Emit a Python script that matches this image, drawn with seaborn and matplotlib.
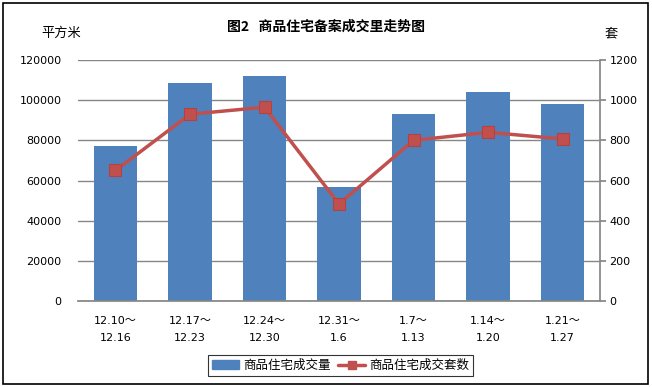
import numpy as np
import pandas as pd
import seaborn as sns
import matplotlib.pyplot as plt
from matplotlib.patches import Rectangle
from matplotlib.lines import Line2D

weeks = ["12.10～\n12.16", "12.17～\n12.23", "12.24～\n12.30", "12.31～\n1.6",
         "1.7～\n1.13", "1.14～\n1.20", "1.21～\n1.27"]
area = [77000, 108500, 112000, 56800, 93000, 104000, 98000]
units = [650, 930, 965, 483, 800, 840, 807]

sns.set_theme(style="white")
plt.rcParams['font.family'] = ['DejaVu Sans', 'Noto Sans CJK SC']
plt.rcParams['text.color'] = 'black'
cjk = ['Noto Sans CJK SC', 'DejaVu Sans']

df = pd.DataFrame({"week": weeks, "area": area, "units": units})

fig = plt.figure(figsize=(6.52, 3.87), dpi=100)
ax = fig.add_axes([0.12, 0.222, 0.8, 0.623])

grid_c = "#868686"
ax.set_ylim(0, 120000)
ax.set_yticks(range(0, 120001, 20000))
ax.yaxis.grid(True, color=grid_c, linewidth=1)
ax.set_axisbelow(True)

sns.barplot(data=df, x="week", y="area", color="#4F81BD", width=0.58,
            saturation=1, linewidth=0, edgecolor="none", ax=ax, zorder=2)
ax.set_xlim(-0.5, 6.5)

ax2 = ax.twinx()
sns.lineplot(data=df, x="week", y="units", color="#C0504D", linewidth=2.5,
             marker="s", markersize=8, markeredgecolor="#B9403D", ax=ax2, sort=False)
ax2.set_ylim(0, 1200)
ax2.set_yticks(range(0, 1201, 200))
ax2.set_xlim(-0.5, 6.5)

for a in (ax, ax2):
    a.set_xlabel("")
    a.set_ylabel("")
    for s in a.spines.values():
        s.set_visible(False)
ax2.spines["right"].set_visible(True)
ax2.spines["right"].set_color(grid_c)
ax2.spines["bottom"].set_visible(True)
ax2.spines["bottom"].set_color(grid_c)

ax.tick_params(axis="y", length=0, labelsize=8, pad=12, labelcolor="black")
ax2.tick_params(axis="y", length=4, color=grid_c, direction="out",
                right=True, labelsize=8, pad=3, labelcolor="black")
ax.tick_params(axis="x", length=0, labelsize=8, pad=11, labelcolor="black")
for t in ax.get_xticklabels():
    t.set_linespacing(1.8)
    t.set_family(cjk[::-1])

fig.text(0.5, 0.93, "图2   商品住宅备案成交里走势图", ha="center", va="center",
         fontsize=10, fontweight="bold", family=cjk)
fig.text(0.094, 0.913, "平方米", ha="center", va="center", fontsize=9.5, family=cjk)
fig.text(0.937, 0.913, "套", ha="center", va="center", fontsize=9.5, family=cjk)

handles = [Rectangle((0, 0), 1, 1, color="#4F81BD"),
           Line2D([], [], color="#C0504D", linewidth=2.5, marker="s", markersize=6)]
leg = fig.legend(handles, ["商品住宅成交量", "商品住宅成交套数"], loc="center",
                 bbox_to_anchor=(0.522, 0.055), ncol=2, frameon=True, fancybox=False,
                 prop={"family": cjk, "size": 9}, handlelength=2.2, handletextpad=0.3,
                 columnspacing=0.6, borderpad=0.3)
leg.get_frame().set_edgecolor("black")
leg.get_frame().set_linewidth(0.8)

fig.add_artist(Rectangle((0.004, 0.008), 0.99, 0.985, transform=fig.transFigure,
                         fill=False, edgecolor="black", linewidth=1.2))

fig.savefig("out.png", dpi=100)
